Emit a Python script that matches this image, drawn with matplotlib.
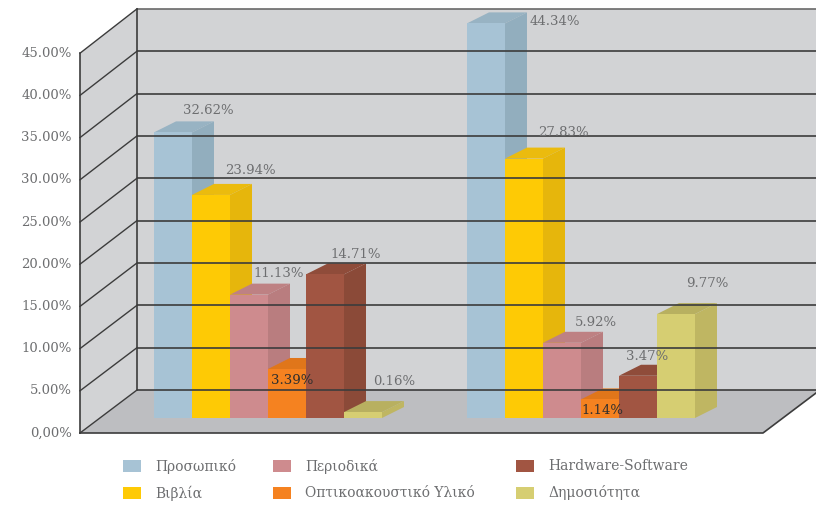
import matplotlib
matplotlib.use("Agg")
import matplotlib.pyplot as plt
from matplotlib.patches import Polygon, Rectangle

# --- Data ---
series = ["Προσωπικό", "Βιβλία", "Περιοδικά", "Οπτικοακουστικό Υλικό",
          "Hardware-Software", "Δημοσιότητα"]
# printed data labels, one list per group of bars
label_values = [
    [32.62, 23.94, 11.13, 3.39, 14.71, 0.16],
    [44.34, 27.83, 5.92, 1.14, 3.47, 9.77],
]
# drawn bar heights in axis %, as they appear against the value axis
bar_heights = [
    [33.8, 26.4, 14.6, 5.8, 17.0, 0.7],
    [46.7, 30.7, 8.9, 2.2, 5.0, 12.3],
]
tick_values = [0, 5, 10, 15, 20, 25, 30, 35, 40, 45]
tick_labels = ["0,00%", "5.00%", "10.00%", "15.00%", "20.00%", "25.00%",
               "30.00%", "35.00%", "40.00%", "45.00%"]

# --- Style ---
front_colors = ["#A7C3D5", "#FECA05", "#CE8B8E", "#F58220", "#A15542", "#D6CE72"]
side_colors = ["#92AEBE", "#E6B60C", "#B97D7F", "#DE7419", "#8B4A38", "#BFB662"]
top_colors = ["#98B3C3", "#EBBB0E", "#BE8183", "#E0761A", "#8F4C3A", "#B8B060"]
label_colors = ["#6D6E70"] * 3 + ["#2E2E2E"] + ["#6D6E70"] * 2
WALL = "#D2D3D5"
FLOOR = "#BDBEC1"
GRID = "#3C3C3C"
TEXT = "#6D6E70"
FONT = "DejaVu Serif"

# --- 3D-ish layout, in pixel units ---
W, H = 816, 505
front_x, back_x = 80, 137          # left wall front / back edges
front_y0, back_y0 = 433, 390       # 0% on the front edge / back wall
front_k, back_k = 8.44, 8.47       # px per %
bar_y0, bar_k = 418, 8.45          # bars stand on this line
bar_w, depth_dx, depth_dy = 38, 22, 11
group_x0, group_step = 154, 313
floor_right = 763

# data-label offsets (dx from bar left, dy from back edge of bar top)
label_offsets = [
    [(54, -11), (58, -13), (49, -10), (24, 23), (50, -9), (50, -20)],
    [(88, 9), (58, -15), (53, -9), (21, 22), (28, -8), (50, -20)],
]

# legend grid (column x of the colour key, row centre y)
legend_cols = [123, 273, 516]
legend_rows = [466, 493]
key_w, key_h, key_pad = 18, 12, 14


def fy(v):
    return front_y0 - v * front_k


def by(v):
    return back_y0 - v * back_k


def bary(v):
    return bar_y0 - v * bar_k


fig = plt.figure(figsize=(W / 100, H / 100), dpi=100)
ax = fig.add_axes([0, 0, 1, 1])
ax.set_xlim(0, W)
ax.set_ylim(H, 0)
ax.axis("off")

top_v = tick_values[-1]

# back wall
ax.add_patch(Polygon([(back_x, by(top_v)), (W + 5, by(top_v)), (W + 5, by(0)), (back_x, by(0))],
                     closed=True, facecolor=WALL, edgecolor="none"))
# left wall
ax.add_patch(Polygon([(front_x, fy(top_v)), (back_x, by(top_v)), (back_x, by(0)), (front_x, fy(0))],
                     closed=True, facecolor=WALL, edgecolor="none"))
# floor
ax.add_patch(Polygon([(front_x, fy(0)), (back_x, by(0)), (floor_right + back_x - front_x, by(0)),
                      (floor_right, fy(0))], closed=True, facecolor=FLOOR, edgecolor="none"))

# gridlines on back wall and left wall
for v in tick_values:
    col = "#6A6A6A" if v == top_v else GRID
    ax.plot([back_x, W + 5], [by(v), by(v)], color=col, lw=1.2, solid_capstyle="butt")
    ax.plot([front_x, back_x], [fy(v), by(v)], color=GRID, lw=1.0)
ax.plot([back_x, back_x], [by(top_v), by(0)], color=GRID, lw=1.2)
ax.plot([front_x, front_x], [fy(top_v), fy(0)], color=GRID, lw=1.2)
ax.plot([front_x, floor_right, floor_right + back_x - front_x], [fy(0), fy(0), by(0)],
        color=GRID, lw=1.2)

# tick labels
for v, t in zip(tick_values, tick_labels):
    ax.text(front_x - 8, fy(v), t, ha="right", va="center", fontsize=9.5,
            color=TEXT, family=FONT)

# bars
for g, heights in enumerate(bar_heights):
    for i, h in enumerate(heights):
        x = group_x0 + g * group_step + i * bar_w
        yt = bary(h)
        yb = bary(0)
        ax.add_patch(Polygon([(x, yt), (x + depth_dx, yt - depth_dy),
                              (x + bar_w + depth_dx, yt - depth_dy), (x + bar_w, yt)],
                             closed=True, facecolor=top_colors[i], edgecolor="none"))
        ax.add_patch(Polygon([(x + bar_w, yb), (x + bar_w + depth_dx, yb - depth_dy),
                              (x + bar_w + depth_dx, yt - depth_dy), (x + bar_w, yt)],
                             closed=True, facecolor=side_colors[i], edgecolor="none"))
        ax.add_patch(Polygon([(x, yb), (x + bar_w, yb), (x + bar_w, yt), (x, yt)],
                             closed=True, facecolor=front_colors[i], edgecolor="none"))

# data labels
for g, vals in enumerate(label_values):
    for i, v in enumerate(vals):
        x = group_x0 + g * group_step + i * bar_w
        ox, oy = label_offsets[g][i]
        ax.text(x + ox, bary(bar_heights[g][i]) - depth_dy + oy, f"{v:.2f}%",
                ha="center", va="center", fontsize=9.5, color=label_colors[i], family=FONT)

# legend: filled column by column, two rows
for i, name in enumerate(series):
    lx = legend_cols[i // 2]
    ly = legend_rows[i % 2]
    ax.add_patch(Rectangle((lx, ly - key_h / 2), key_w, key_h,
                           facecolor=front_colors[i], edgecolor="none"))
    ax.text(lx + key_w + key_pad, ly, name, ha="left", va="center", fontsize=10,
            color=TEXT, family=FONT)

fig.savefig("out.png", dpi=100)
